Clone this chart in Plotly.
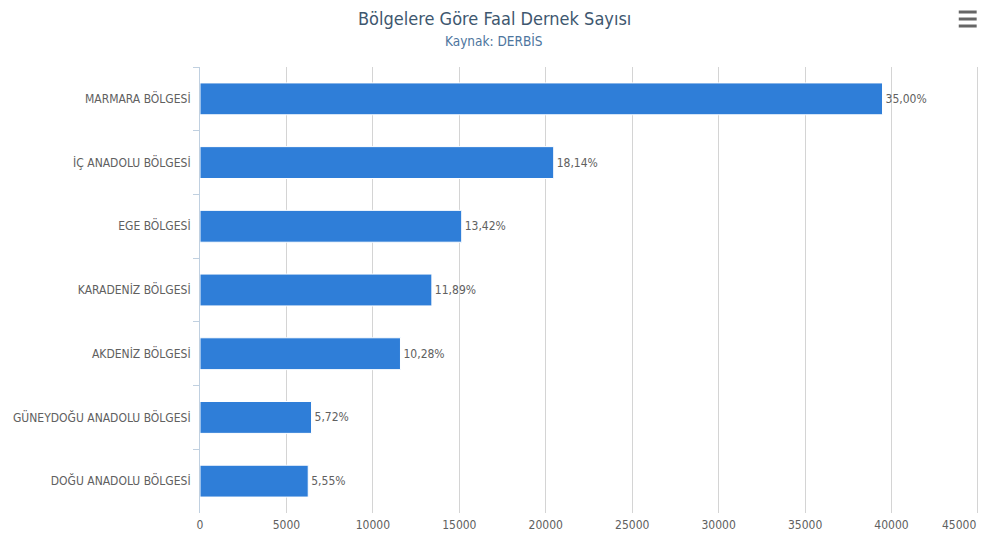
import plotly.graph_objects as go

regions = ["MARMARA BÖLGESİ", "İÇ ANADOLU BÖLGESİ", "EGE BÖLGESİ", "KARADENİZ BÖLGESİ",
           "AKDENİZ BÖLGESİ", "GÜNEYDOĞU ANADOLU BÖLGESİ", "DOĞU ANADOLU BÖLGESİ"]
counts = [39480, 20460, 15138, 13412, 11596, 6452, 6260]
shares = [35.00, 18.14, 13.42, 11.89, 10.28, 5.72, 5.55]
x_ticks = [0, 5000, 10000, 15000, 20000, 25000, 30000, 35000, 40000, 45000]

FONT = "DejaVu Sans Condensed, Liberation Sans Narrow, Arial Narrow, sans-serif"
labels = [f"{s:.2f}".replace(".", ",") + "%" for s in shares]

def f(size, color):
    return dict(family=FONT, size=size, color=color)

fig = go.Figure(go.Bar(
    x=counts, y=regions, orientation="h",
    marker=dict(color="#2f7ed8", line=dict(color="#ffffff", width=1)),
    text=labels, textposition="outside", cliponaxis=False,
    textfont=f(12, "#606060"),
    width=0.5, hoverinfo="x+y",
))

# the last tick label is right-aligned at its gridline (as in the reference)
tick_text = [str(v) for v in x_ticks[:-1]] + [""]

# page body has an 8px margin, so the figure is drawn offset by (8, 8)
fig.update_layout(
    width=981, height=528,
    margin=dict(l=192, r=10, t=59, b=23),
    paper_bgcolor="white", plot_bgcolor="white",
    font=f(12, "#606060"),
    showlegend=False,
    xaxis=dict(
        range=[0, 45060], tickvals=x_ticks, ticktext=tick_text,
        showgrid=True, gridcolor="#d4d4d4", gridwidth=1,
        zeroline=False, showline=False, ticks="", ticklabelstandoff=3,
        tickfont=f(12, "#606060"), automargin=False,
    ),
    yaxis=dict(
        categoryorder="array", categoryarray=regions, autorange="reversed",
        showline=True, linecolor="#c0d0e0", linewidth=1,
        ticks="outside", tickson="boundaries", ticklen=6, tickcolor="#c0d0e0",
        showgrid=False, zeroline=False, automargin=False,
        tickfont=f(12, "#606060"),
        ticklabelstandoff=6,
    ),
    bargap=0.5,
    annotations=[
        dict(text="Bölgelere Göre Faal Dernek Sayısı", xref="paper", yref="paper",
             x=0.378, y=1.0, yanchor="middle", xanchor="center", yshift=49,
             showarrow=False, font=f(18, "#3e576f")),
        dict(text="Kaynak: DERBİS", xref="paper", yref="paper",
             x=0.378, y=1.0, yanchor="middle", xanchor="center", yshift=27,
             showarrow=False, font=f(13.5, "#4d759e")),
        dict(text=str(x_ticks[-1]), xref="x", yref="paper",
             x=x_ticks[-1], y=0, xanchor="right", yanchor="top", yshift=-3,
             showarrow=False, font=f(12, "#606060")),
    ],
)

# menu (hamburger) icon
for yy in [1.1233, 1.1076, 1.0919]:
    fig.add_shape(type="line", xref="paper", yref="paper",
                  x0=0.974, x1=0.997, y0=yy, y1=yy,
                  line=dict(color="#666666", width=3))

fig.write_html("out.html")
